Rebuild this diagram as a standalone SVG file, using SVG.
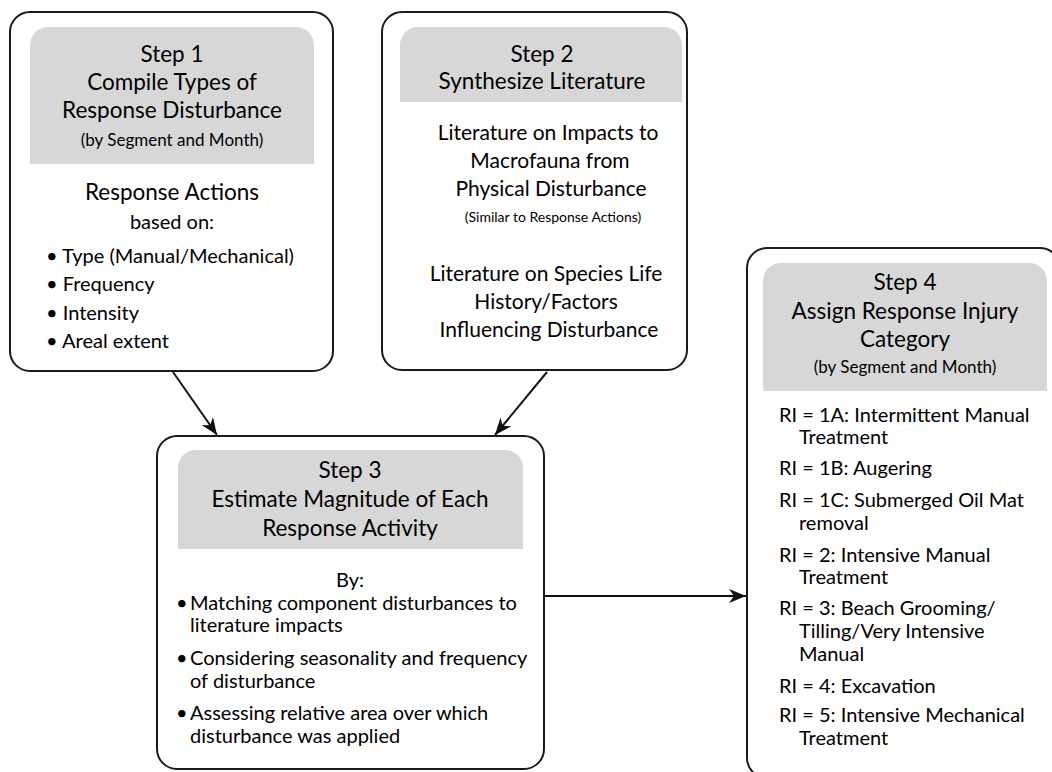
<svg xmlns="http://www.w3.org/2000/svg" width="1052" height="772" viewBox="0 0 1052 772">
<style>
.box{fill:#fff;stroke:#1a1a1a;stroke-width:2}
.hdr{fill:#d7d7d7}
text{font-family:Lato,"Liberation Sans",sans-serif;fill:#000}
.h{font-size:22.5px}
.m{font-size:21px}
.b{font-size:20px}
.s{font-size:17px}
.x{font-size:14px}
.c{text-anchor:middle}
.conn{stroke:#111;stroke-width:2;fill:none}
</style>
<defs>
<marker id="ah" markerUnits="userSpaceOnUse" markerWidth="18" markerHeight="14" viewBox="0 0 18 14" refX="17" refY="7" orient="auto">
<path d="M0,0 L17,7 L0,14 L5,7 Z" fill="#111"/>
</marker>
</defs>
<rect width="1052" height="772" fill="#fff"/>
<g id="connectors">
<line class="conn" x1="173" y1="372" x2="217" y2="435" marker-end="url(#ah)"/>
<line class="conn" x1="547" y1="372" x2="495" y2="435" marker-end="url(#ah)"/>
<line class="conn" x1="544" y1="596" x2="746" y2="596" marker-end="url(#ah)"/>
</g>
<g id="step1">
<rect class="box" x="10" y="12" width="323" height="359" rx="20"/>
<path class="hdr" d="M30,164 V45 A18,18 0 0 1 48,27 H296 A18,18 0 0 1 314,45 V164 Z"/>
<text class="h c" x="172" y="62">Step 1</text>
<text class="h c" x="172" y="90">Compile Types of</text>
<text class="h c" x="172" y="118">Response Disturbance</text>
<text class="s c" x="172" y="146">(by Segment and Month)</text>
<text class="h c" x="172" y="200">Response Actions</text>
<text class="b c" x="172" y="229">based on:</text>
<text class="b" x="46" y="263">• Type (Manual/Mechanical)</text>
<text class="b" x="46" y="291">• Frequency</text>
<text class="b" x="46" y="320">• Intensity</text>
<text class="b" x="46" y="348">• Areal extent</text>
</g>
<g id="step2">
<rect class="box" x="382" y="12" width="305" height="358" rx="20"/>
<path class="hdr" d="M400,102 V45 A18,18 0 0 1 418,27 H664 A18,18 0 0 1 682,45 V102 Z"/>
<text class="h c" x="542" y="62">Step 2</text>
<text class="h c" x="542" y="89">Synthesize Literature</text>
<text class="m c" x="548" y="140">Literature on Impacts to</text>
<text class="m c" x="550" y="168">Macrofauna from</text>
<text class="m c" x="551" y="196">Physical Disturbance</text>
<text class="x c" x="553" y="222">(Similar to Response Actions)</text>
<text class="m c" x="546" y="281">Literature on Species Life</text>
<text class="m c" x="546" y="309">History/Factors</text>
<text class="m c" x="549" y="337">Influencing Disturbance</text>
</g>
<g id="step3">
<rect class="box" x="157" y="436" width="387" height="333" rx="20"/>
<path class="hdr" d="M178,549 V468 A18,18 0 0 1 196,450 H505 A18,18 0 0 1 523,468 V549 Z"/>
<text class="h c" x="350" y="478">Step 3</text>
<text class="h c" x="350" y="507">Estimate Magnitude of Each</text>
<text class="h c" x="350" y="536">Response Activity</text>
<text class="b c" x="350" y="587">By:</text>
<text class="b" x="176" y="610">•</text>
<text class="b" x="190" y="610">Matching component disturbances to</text>
<text class="b" x="190" y="632">literature impacts</text>
<text class="b" x="176" y="665">•</text>
<text class="b" x="190" y="665">Considering seasonality and frequency</text>
<text class="b" x="190" y="688">of disturbance</text>
<text class="b" x="176" y="720">•</text>
<text class="b" x="190" y="720">Assessing relative area over which</text>
<text class="b" x="190" y="743">disturbance was applied</text>
</g>
<g id="step4">
<rect class="box" x="747" y="248" width="313" height="530" rx="20"/>
<path class="hdr" d="M763,391 V281 A18,18 0 0 1 781,263 H1029 A18,18 0 0 1 1047,281 V391 Z"/>
<text class="h c" x="905" y="290">Step 4</text>
<text class="h c" x="905" y="319">Assign Response Injury</text>
<text class="h c" x="905" y="347">Category</text>
<text class="s c" x="905" y="373">(by Segment and Month)</text>
<text class="b" x="779" y="422">RI = 1A: Intermittent Manual</text>
<text class="b" x="799" y="444">Treatment</text>
<text class="b" x="779" y="475">RI = 1B: Augering</text>
<text class="b" x="779" y="507">RI = 1C: Submerged Oil Mat</text>
<text class="b" x="799" y="530">removal</text>
<text class="b" x="779" y="562">RI = 2: Intensive Manual</text>
<text class="b" x="799" y="584">Treatment</text>
<text class="b" x="779" y="615">RI = 3: Beach Grooming/</text>
<text class="b" x="799" y="638">Tilling/Very Intensive</text>
<text class="b" x="799" y="661">Manual</text>
<text class="b" x="779" y="693">RI = 4: Excavation</text>
<text class="b" x="779" y="722">RI = 5: Intensive Mechanical</text>
<text class="b" x="799" y="745">Treatment</text>
</g>
</svg>
